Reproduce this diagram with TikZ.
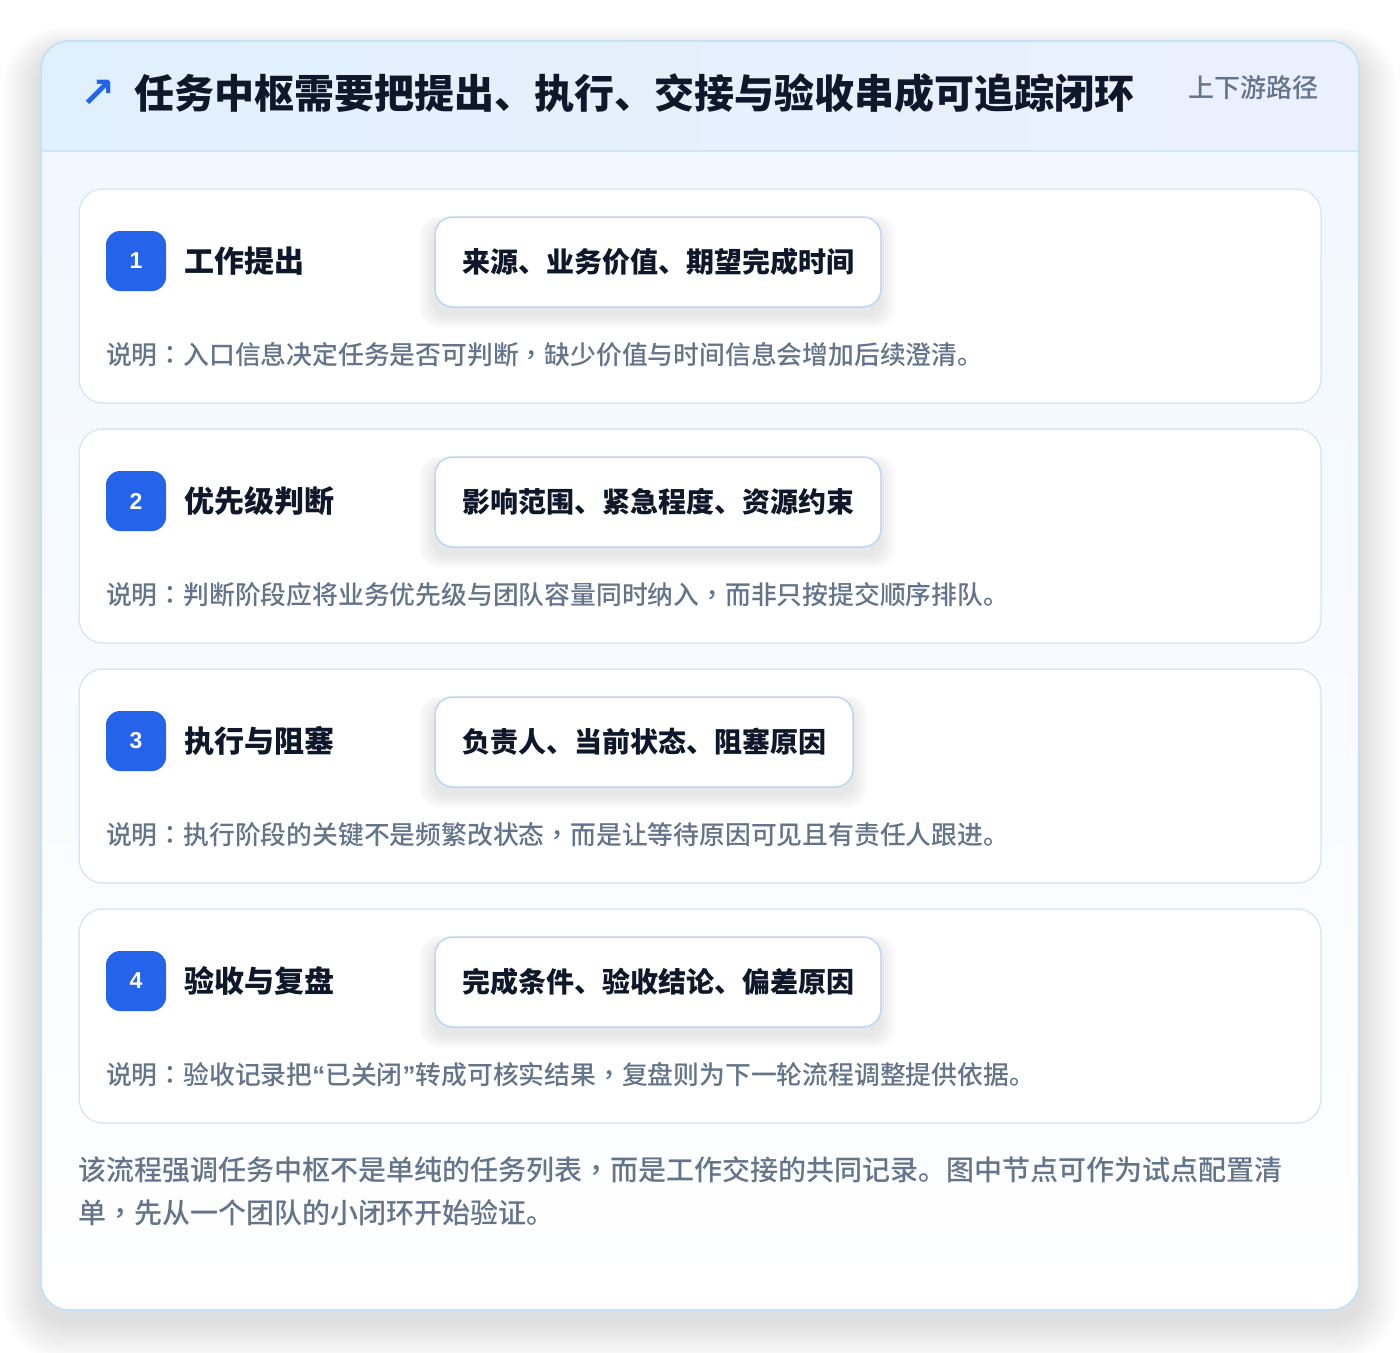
\documentclass[tikz,border=0pt]{standalone}
\usepackage{fontspec}
\setmainfont{Noto Sans CJK SC}
\newfontfamily\numfont{Liberation Sans}
\newfontfamily\symfont{DejaVu Sans}
\newfontfamily\medfont{Noto Sans CJK SC Medium}
\newfontfamily\tcpunct{Noto Sans CJK TC Medium}
\newfontfamily\quotefont{Liberation Sans}
\newcommand\cm{{\tcpunct ，}}
\newcommand\cl{{\tcpunct ：}}
\newcommand\ql{{\quotefont\bfseries “}}
\newcommand\qr{{\quotefont\bfseries ”}}
\definecolor{ink}{HTML}{0F172A}
\definecolor{slate}{HTML}{64748B}
\definecolor{brand}{HTML}{2563EB}
\definecolor{cardborder}{HTML}{C3E2F5}
\definecolor{hdrL}{HTML}{E1F0FD}
\definecolor{hdrR}{HTML}{EBF0FE}
\definecolor{hdrline}{HTML}{D3E6F6}
\definecolor{stepborder}{HTML}{D9E8F6}
\definecolor{chipborder}{HTML}{BCD7F3}
\definecolor{cardtop}{HTML}{F0F7FF}
\tikzset{
  stepcard/.style={draw=stepborder, line width=1.5pt, fill=white, rounded corners=24pt, minimum width=1242pt, minimum height=214pt},
  badge/.style={fill=brand, rounded corners=14pt, minimum size=60pt, text=white, font=\numfont\bfseries\fontsize{23}{27}\selectfont},
  steptitle/.style={anchor=west, text=ink, font=\bfseries\fontsize{30}{36}\selectfont},
  chip/.style={anchor=west, draw=chipborder, line width=1.5pt, fill=white, rounded corners=18pt, minimum height=90pt, inner xsep=27pt, text=ink, font=\bfseries\fontsize{28}{34}\selectfont},
  desc/.style={anchor=west, text=slate, font=\medfont\fontsize{25.8}{30}\selectfont},
  foot/.style={anchor=west, text=slate, font=\medfont\fontsize{28}{34}\selectfont},
}
\newcommand\mystep[5]{%
  \node[stepcard] (s#1) at (700,{#2+107}) {};
  \foreach \i in {1,...,8} {
    \fill[black, opacity=0.012, rounded corners=18pt] ({435-\i*2},{#2+28+8-\i*1.2}) rectangle ({435+#4-1+\i*2},{#2+118+8+\i*1.6});
  }
  \node[badge] (b#1) at (136,{#2+72}) {#1};
  \node[steptitle] (t#1) at (184,{#2+72}) {#3};
  \node[chip] (c#1) at (435,{#2+73}) {#5};
}
\begin{document}
\begin{tikzpicture}[x=1pt,y=-1pt, every node/.style={inner sep=0pt, outer sep=0pt}]
\useasboundingbox (0,0) rectangle (1400,1352);
% outer shadow
\foreach \i [evaluate=\i as \r using 28+2*\i] in {1,...,16} {
  \fill[black, opacity=0.009, rounded corners=\r pt] ({41-\i*2.4},{41+12-\i*1.6}) rectangle ({1359+\i*2.4},{1310+12+\i*2.4});
}
% card
\path[rounded corners=28pt, top color=cardtop, bottom color=white] (41,41) rectangle (1359,1310);
\begin{scope}
  \clip[rounded corners=28pt] (41,41) rectangle (1359,1310);
  \fill[left color=hdrL, right color=hdrR] (41,41) rectangle (1359,151);
\end{scope}
\draw[hdrline, line width=1.5pt] (41,151) -- (1359,151);
\node[draw=cardborder, line width=1.8pt, rounded corners=28pt, minimum width=1318pt, minimum height=1269pt] (card) at (700,675.5) {};
% header
\node[text=brand, font=\symfont\bfseries\fontsize{42}{48}\selectfont] (arrow) at (98,94) {↗};
\node[anchor=west, text=ink, font=\bfseries\fontsize{40}{48}\selectfont] (title) at (134,93) {任务中枢需要把提出、执行、交接与验收串成可追踪闭环};
\node[anchor=east, text=slate, font=\medfont\fontsize{26}{32}\selectfont] (tag) at (1318,88) {上下游路径};
% steps
\mystep{1}{189}{工作提出}{446}{来源、业务价值、期望完成时间}
\node[desc] (d1) at (106,355) {说明\cl 入口信息决定任务是否可判断\cm 缺少价值与时间信息会增加后续澄清。};
\mystep{2}{429}{优先级判断}{446}{影响范围、紧急程度、资源约束}
\node[desc] (d2) at (106,595) {说明\cl 判断阶段应将业务优先级与团队容量同时纳入\cm 而非只按提交顺序排队。};
\mystep{3}{669}{执行与阻塞}{418}{负责人、当前状态、阻塞原因}
\node[desc] (d3) at (106,835) {说明\cl 执行阶段的关键不是频繁改状态\cm 而是让等待原因可见且有责任人跟进。};
\mystep{4}{909}{验收与复盘}{446}{完成条件、验收结论、偏差原因}
\node[desc] (d4) at (106,1075) {说明\cl 验收记录把\ql 已关闭\qr 转成可核实结果\cm 复盘则为下一轮流程调整提供依据。};
% footer
\node[foot] (f1) at (78,1170) {该流程强调任务中枢不是单纯的任务列表\cm 而是工作交接的共同记录。图中节点可作为试点配置清};
\node[foot] (f2) at (78,1213) {单\cm 先从一个团队的小闭环开始验证。};
\end{tikzpicture}
\end{document}
